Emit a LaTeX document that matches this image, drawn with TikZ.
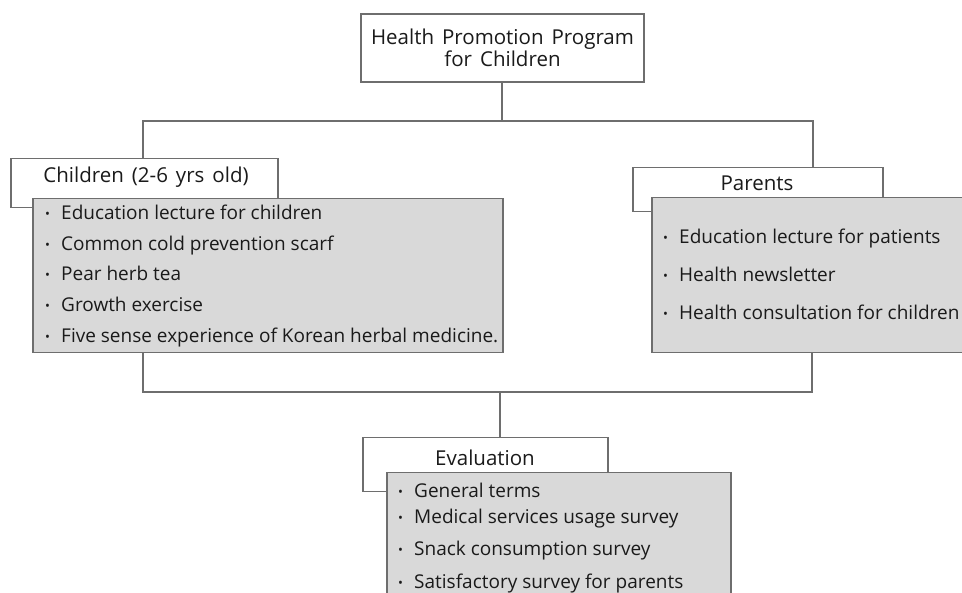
\documentclass[tikz,border=0pt]{standalone}
\usepackage{fontspec}
\setmainfont{Open Sans}
\definecolor{lc}{HTML}{6E6E6E}
\definecolor{boxgray}{HTML}{D9D9D9}
\definecolor{tc}{HTML}{1A1A1A}
\newcommand{\itm}[1]{\makebox[16pt][l]{\raisebox{0.8pt}{\fontsize{13}{13}\selectfont\textbullet}}#1}
\newcommand{\hfnt}{\fontsize{20.5}{22}\selectfont\spaceskip=8pt plus 2pt minus 1pt\relax}
\begin{document}
\begin{tikzpicture}[x=1pt,y=-1pt,
  frame/.style={draw=lc, line width=1.5pt, fill=white, inner sep=0pt, anchor=north west},
  graybox/.style={draw=lc, line width=1.5pt, fill=boxgray, inner sep=0pt, anchor=north west},
  txt/.style={text=tc, inner sep=0pt, font=\fontsize{19}{23}\selectfont},
  htxt/.style={text=tc, inner sep=0pt, font=\hfnt},
  item/.style={txt, anchor=base west},
  conn/.style={draw=lc, line width=1.5pt}]
\clip (0,0) rectangle (962,593);
% top box
\node[frame, anchor=center, minimum width=283, minimum height=68, align=center, htxt] (top) at (502.5,48) {Health Promotion Program\\for Children};
% header frames
\node[frame, minimum width=267, minimum height=49] (chh) at (10,158) {};
\node[frame, minimum width=250, minimum height=44] (pah) at (632,167) {};
\node[frame, minimum width=245, minimum height=54] (evh) at (362,437) {};
\node[htxt] (chht) at (146,177) {Children (2-6 yrs old)};
\node[htxt] (paht) at (757,183) {Parents};
\node[htxt] (evht) at (485,458) {Evaluation};
% gray boxes
\node[graybox, minimum width=470, minimum height=154] (chl) at (32,198) {};
\node[graybox, minimum width=330, minimum height=155] (pal) at (651,197) {};
\node[graybox, minimum width=344, minimum height=140] (evl) at (386,472) {};
% items
\node[item] (c1) at (45,219.5) {\itm{Education lecture for children}};
\node[item] (c2) at (45,250.2) {\itm{Common cold prevention scarf}};
\node[item] (c3) at (45,280.8) {\itm{Pear herb tea}};
\node[item] (c4) at (45,311.5) {\itm{Growth exercise}};
\node[item] (c5) at (45,342.2) {\itm{Five sense experience of Korean herbal medicine.}};
\node[item] (p1) at (663,243.5) {\itm{Education lecture for patients}};
\node[item] (p2) at (663,281.5) {\itm{Health newsletter}};
\node[item] (p3) at (663,319.5) {\itm{Health consultation for children}};
\node[item] (e1) at (398,497.5) {\itm{General terms}};
\node[item] (e2) at (398,523.5) {\itm{Medical services usage survey}};
\node[item] (e3) at (398,555.5) {\itm{Snack consumption survey}};
\node[item] (e4) at (398,588.5) {\itm{Satisfactory survey for parents}};
% connectors
\coordinate (j0) at (502,121);
\coordinate (jl) at (143,121);
\coordinate (jr) at (813,121);
\coordinate (kl) at (143,392);
\coordinate (kr) at (812,392);
\coordinate (km) at (500,392);
\draw[conn] (top.south -| j0) -- (j0);
\draw[conn] (jl |- chh.north) -- (jl) -- (jr) -- (jr |- pah.north);
\draw[conn] (kl |- chl.south) -- (kl) -- (kr) -- (kr |- pal.south);
\draw[conn] (km) -- (km |- evh.north);
\end{tikzpicture}
\end{document}
